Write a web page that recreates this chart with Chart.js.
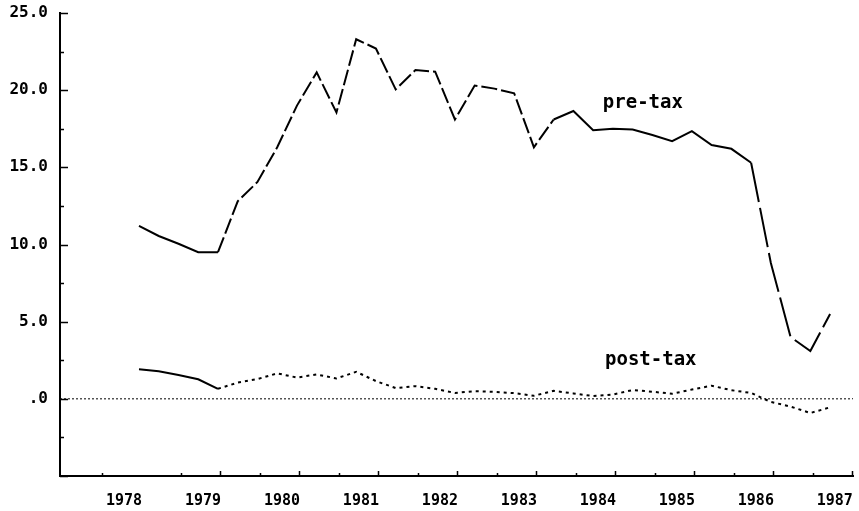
<!DOCTYPE html>
<html>
<head>
<meta charset="utf-8">
<script src="https://cdn.jsdelivr.net/npm/chart.js@4/dist/chart.umd.min.js"></script>
<style>
  html, body { margin: 0; padding: 0; background: #fff; }
  #wrap { width: 859px; height: 511px; }
</style>
</head>
<body>
<div id="wrap"><canvas id="chart"></canvas></div>
<script>
// quarterly observations (fractional years)
const quarters = [
  1978.19, 1978.44, 1978.69, 1978.94,
  1979.19, 1979.44, 1979.69, 1979.94,
  1980.19, 1980.44, 1980.69, 1980.94,
  1981.19, 1981.44, 1981.69, 1981.94,
  1982.19, 1982.44, 1982.69, 1982.94,
  1983.19, 1983.44, 1983.69, 1983.94,
  1984.19, 1984.44, 1984.69, 1984.94,
  1985.19, 1985.44, 1985.69, 1985.94,
  1986.19, 1986.44, 1986.69, 1986.94,
];

const preTax = [
  11.2, 10.55, 10.05, 9.5,
  9.5, 12.8, 14.05, 16.3,
  19.0, 21.15, 18.55, 23.3,
  22.7, 20.05, 21.3, 21.2,
  18.1, 20.3, 20.1, 19.8,
  16.3, 18.1, 18.65, 17.4,
  17.5, 17.45, 17.1, 16.7,
  17.35, 16.45, 16.2, 15.3,
  8.8, 4.0, 3.1, 5.5,
];

const postTax = [
  1.92, 1.78, 1.55, 1.27,
  0.65, 1.05, 1.28, 1.65,
  1.38, 1.58, 1.32, 1.75,
  1.15, 0.7, 0.82, 0.65,
  0.38, 0.5, 0.45, 0.37,
  0.2, 0.52, 0.35, 0.18,
  0.28, 0.57, 0.46, 0.33,
  0.6, 0.85, 0.56, 0.38,
  -0.2, -0.5, -0.92, -0.55,
];

const yearLabels = [1978, 1979, 1980, 1981, 1982, 1983, 1984, 1985, 1986, 1987];
const yLabelValues = [-5, 0, 5, 10, 15, 20, 25];
const yMinorMarks = [-2.5, 2.5, 7.5, 12.5, 17.5, 22.5];
const xMajorMarks = [1979.22, 1980.22, 1981.22, 1982.22, 1983.22, 1984.22, 1985.22, 1986.22, 1987.22];
const xMinorMarks = [1977.72, 1978.72, 1979.72, 1980.72, 1981.72, 1982.72, 1983.72, 1984.72, 1985.72, 1986.72];
const xMin = 1977.19;
const xMax = 1987.23;

const seriesNotes = [
  { text: "pre-tax", x: 1984.57, y: 18.86 },
  { text: "post-tax", x: 1984.67, y: 2.2 },
];

const monoFont = "'DejaVu Sans Mono', monospace";

// tick marks point inward, as on the original plot
const inwardTicks = {
  id: "inwardTicks",
  afterDraw(chart) {
    const { ctx, chartArea, scales: { x, y } } = chart;
    ctx.save();
    ctx.strokeStyle = "#000";
    ctx.lineWidth = 1.5;
    ctx.beginPath();
    xMajorMarks.forEach((v) => {
      const px = Math.round(x.getPixelForValue(v)) + 0.5;
      ctx.moveTo(px, chartArea.bottom);
      ctx.lineTo(px, chartArea.bottom - 5);
    });
    xMinorMarks.forEach((v) => {
      const px = Math.round(x.getPixelForValue(v)) + 0.5;
      ctx.moveTo(px, chartArea.bottom);
      ctx.lineTo(px, chartArea.bottom - 3);
    });
    yLabelValues.forEach((v) => {
      const py = Math.round(y.getPixelForValue(v)) + 0.5;
      ctx.moveTo(chartArea.left, py);
      ctx.lineTo(chartArea.left + 8, py);
    });
    yMinorMarks.forEach((v) => {
      const py = Math.round(y.getPixelForValue(v)) + 0.5;
      ctx.moveTo(chartArea.left, py);
      ctx.lineTo(chartArea.left + 4, py);
    });
    ctx.stroke();
    ctx.restore();
  },
};

const seriesLabels = {
  id: "seriesLabels",
  afterDatasetsDraw(chart) {
    const { ctx, scales: { x, y } } = chart;
    ctx.save();
    ctx.fillStyle = "#000";
    ctx.font = "bold 19px " + monoFont;
    ctx.textAlign = "center";
    ctx.textBaseline = "alphabetic";
    seriesNotes.forEach((n) => {
      ctx.fillText(n.text, x.getPixelForValue(n.x), y.getPixelForValue(n.y));
    });
    ctx.restore();
  },
};

new Chart(document.getElementById("chart"), {
  type: "line",
  data: {
    datasets: [
      {
        label: "zero",
        data: [{ x: xMin, y: 0 }, { x: xMax, y: 0 }],
        borderColor: "#000",
        borderWidth: 1,
        borderDash: [2, 2],
        pointRadius: 0,
        order: 3,
      },
      {
        label: "pre-tax",
        data: quarters.map((q, i) => ({ x: q, y: preTax[i] })),
        borderColor: "#000",
        borderWidth: 2,
        pointRadius: 0,
        tension: 0,
        segment: {
          borderDash: (ctx) => {
            const i = ctx.p0DataIndex;
            if (i < 4) return [];
            if (i < 21) return [16, 4];
            if (i < 31) return [];
            return [40, 6];
          },
        },
        order: 1,
      },
      {
        label: "post-tax",
        data: quarters.map((q, i) => ({ x: q, y: postTax[i] })),
        borderColor: "#000",
        borderWidth: 2,
        pointRadius: 0,
        tension: 0,
        segment: {
          borderDash: (ctx) => (ctx.p0DataIndex < 4 ? [] : [3, 4]),
        },
        order: 2,
      },
    ],
  },
  options: {
    responsive: true,
    maintainAspectRatio: false,
    animation: false,
    layout: { padding: { top: 13, right: 6, left: 0, bottom: 0 } },
    plugins: {
      legend: { display: false },
      tooltip: { enabled: false },
    },
    scales: {
      x: {
        type: "linear",
        min: xMin,
        max: xMax,
        afterBuildTicks(scale) {
          scale.ticks = yearLabels.map((v) => ({ value: v }));
        },
        afterFit(scale) {
          scale.height = 35;
          scale.paddingLeft = 0;
          scale.paddingRight = 0;
        },
        grid: { display: false, drawTicks: false },
        border: { display: true, color: "#000", width: 2 },
        ticks: {
          autoSkip: false,
          maxRotation: 0,
          padding: 16,
          color: "#000",
          font: { family: monoFont, size: 15, weight: "bold" },
          callback: (v) => String(v),
        },
      },
      y: {
        min: -5,
        max: 25,
        afterBuildTicks(scale) {
          scale.ticks = yLabelValues.map((v) => ({ value: v }));
        },
        afterFit(scale) {
          scale.width = 60;
          scale.paddingTop = 0;
          scale.paddingBottom = 0;
        },
        grid: { display: false, drawTicks: false },
        border: { display: true, color: "#000", width: 2 },
        ticks: {
          padding: 12,
          color: "#000",
          font: { family: monoFont, size: 16, weight: "bold" },
          callback: (v) => (v < 0 ? "" : v === 0 ? ".0" : v.toFixed(1)),
        },
      },
    },
  },
  plugins: [inwardTicks, seriesLabels],
});
</script>
</body>
</html>
